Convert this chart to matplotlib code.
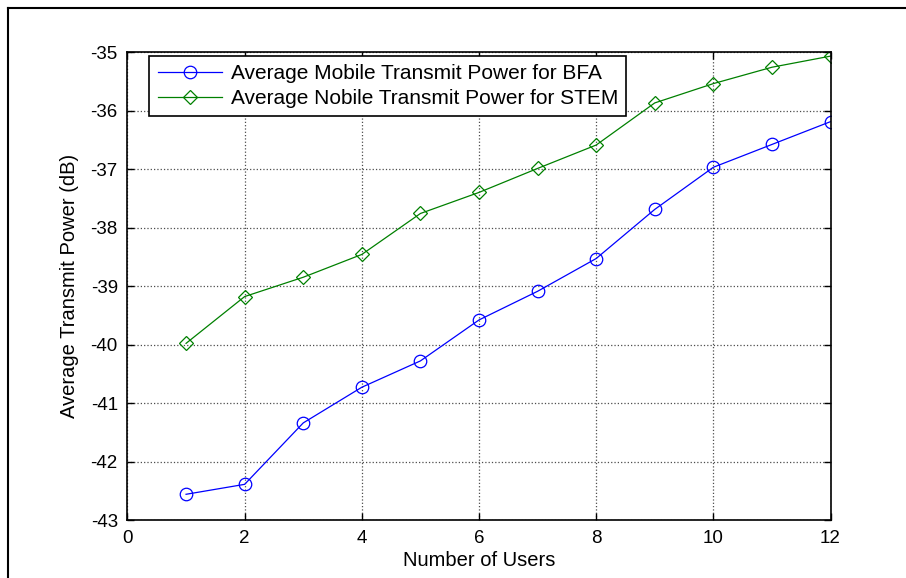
import matplotlib
matplotlib.use("Agg")
import matplotlib.pyplot as plt
from matplotlib.lines import Line2D

plt.rcParams['font.family'] = ['Liberation Sans', 'DejaVu Sans']
plt.rcParams['axes.unicode_minus'] = False

users = [1, 2, 3, 4, 5, 6, 7, 8, 9, 10, 11, 12]
bfa_power = [-42.56, -42.39, -41.34, -40.73, -40.28, -39.58, -39.09, -38.53, -37.69, -36.97, -36.58, -36.19]
stem_power = [-39.98, -39.18, -38.85, -38.46, -37.76, -37.40, -36.99, -36.59, -35.87, -35.54, -35.26, -35.07]

labels = ['Average Mobile Transmit Power for BFA', 'Average Nobile Transmit Power for STEM']
xticks = [0, 2, 4, 6, 8, 10, 12]
yticks = [-43, -42, -41, -40, -39, -38, -37, -36, -35]

fig = plt.figure(figsize=(9.06, 5.78), dpi=100)
ax = fig.add_axes([0.1407, 0.1003, 0.776, 0.8097])

ax.plot(users, bfa_power, color='#0000ff', lw=0.9, marker='o', ms=9,
        mfc='none', mec='#0000ff', mew=0.9, label=labels[0])
ax.plot(users, stem_power, color='#008000', lw=0.9, marker='D', ms=7.5,
        mfc='none', mec='#008000', mew=0.9, label=labels[1])

ax.set_xlim(0, 12)
ax.set_ylim(-43, -35)
ax.set_xticks(xticks)
ax.set_yticks(yticks)
ax.tick_params(direction='in', top=True, right=True, length=5, width=1, labelsize=13.5, pad=7)
ax.grid(True, color='0.3', linestyle=':', linewidth=0.9)
for s in ax.spines.values():
    s.set_linewidth(1.2)

ax.set_xlabel('Number of Users', fontsize=14.5, labelpad=3)
ax.set_ylabel('Average Transmit Power (dB)', fontsize=14.5, labelpad=8)

leg = ax.legend(loc='upper left', bbox_to_anchor=(0.031, 0.992), fontsize=15,
                fancybox=False, framealpha=1, edgecolor='black', handlelength=3.1,
                borderpad=0.4, labelspacing=0.28, handletextpad=0.4, borderaxespad=0)
leg.get_frame().set_linewidth(1.2)

# frame lines at the left and top edges of the picture
fig.add_artist(Line2D([8 / 906, 8 / 906], [0, 1 - 8 / 578], color='black', lw=1.5))
fig.add_artist(Line2D([8 / 906, 1], [1 - 8 / 578, 1 - 8 / 578], color='black', lw=1.5))

fig.savefig('out.png', dpi=100)
